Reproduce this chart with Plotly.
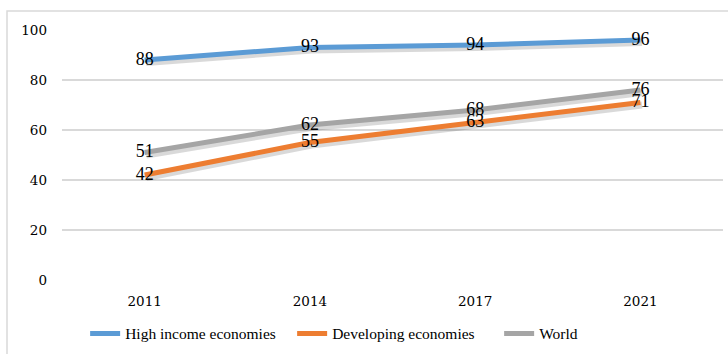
import plotly.graph_objects as go

years = ["2011", "2014", "2017", "2021"]
high_income = [88, 93, 94, 96]
developing = [42, 55, 63, 71]
world = [51, 62, 68, 76]

series = [
    ("High income economies", high_income, "#5B9BD5"),
    ("Developing economies", developing, "#ED7D31"),
    ("World", world, "#A5A5A5"),
]

FONT = "DejaVu Serif"
LFONT = "Liberation Serif"

fig = go.Figure()

# invisible trace so the base (gridded) axes get drawn
fig.add_trace(go.Scatter(
    x=years, y=world, mode="lines", line=dict(width=0, color="rgba(0,0,0,0)"),
    showlegend=False, hoverinfo="skip",
))

# soft drop shadows (same data on a slightly shifted overlay axis)
for name, vals, col in series:
    fig.add_trace(go.Scatter(
        x=years, y=vals, mode="lines", xaxis="x2", yaxis="y2",
        line=dict(color="rgba(0,0,0,0.15)", width=7),
        showlegend=False, hoverinfo="skip",
    ))

for name, vals, col in series:
    fig.add_trace(go.Scatter(
        x=years, y=vals, name=name, mode="lines+text", xaxis="x3", yaxis="y3",
        line=dict(color=col, width=5),
        text=[str(v) for v in vals], textposition="middle center",
        textfont=dict(family=LFONT, size=18, color="#000000"),
    ))

fig.update_layout(
    width=728, height=354,
    margin=dict(l=62, r=5, t=30, b=74, autoexpand=False),
    paper_bgcolor="white", plot_bgcolor="white",
    font=dict(family=FONT, color="#000000"),
    xaxis=dict(type="category", categoryarray=years, range=[-0.5, 3.5], showgrid=False,
               zeroline=False, showline=False, ticks="", tickfont=dict(size=13.5),
               ticklabelstandoff=11, automargin=False),
    yaxis=dict(range=[0, 100], dtick=20, showgrid=True, gridcolor="#D9D9D9", gridwidth=1.5,
               zeroline=False, showline=False, ticks="", tickfont=dict(size=13.5),
               ticklabelstandoff=14, automargin=False),
    xaxis2=dict(type="category", categoryarray=years, range=[-0.51, 3.49], overlaying="x", visible=False),
    yaxis2=dict(range=[1.0, 101.0], overlaying="y", visible=False),
    xaxis3=dict(type="category", categoryarray=years, range=[-0.5, 3.5], overlaying="x", visible=False),
    yaxis3=dict(range=[0, 100], overlaying="y", visible=False),
    legend=dict(orientation="h", x=0.035, xanchor="left", yref="container", y=0.057,
                yanchor="middle", font=dict(size=15.5, family=LFONT), itemwidth=30,
                entrywidth=162, entrywidthmode="pixels", tracegroupgap=0),
    shapes=[dict(type="rect", xref="paper", yref="paper",
                 x0=-0.0832, x1=1.02, y0=-0.4, y1=1.076,
                 line=dict(color="#D9D9D9", width=1.5), fillcolor="rgba(0,0,0,0)",
                 layer="below")],
    showlegend=True,
)

fig.write_html("out.html")
